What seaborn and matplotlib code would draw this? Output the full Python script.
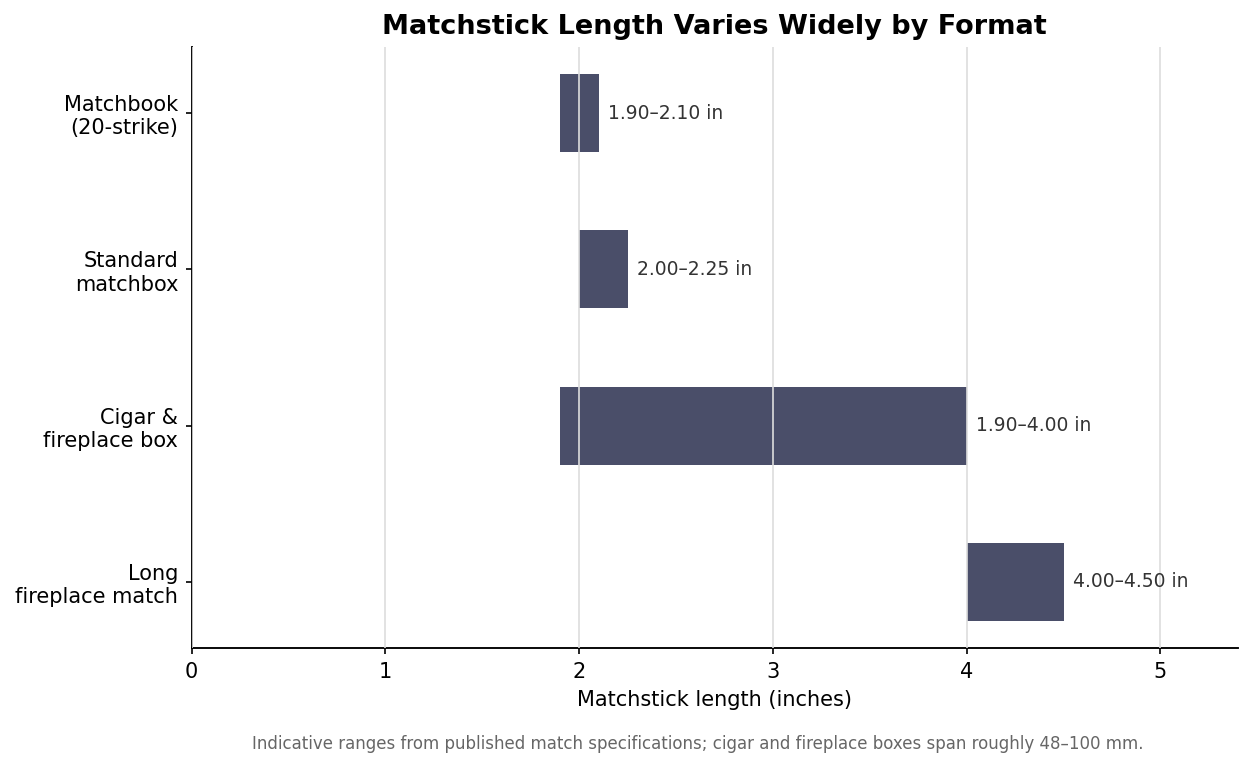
import numpy as np
import pandas as pd
import matplotlib
matplotlib.use("Agg")
import matplotlib.pyplot as plt
import seaborn as sns

# data
formats = ["Matchbook\n(20-strike)", "Standard\nmatchbox", "Cigar &\nfireplace box", "Long\nfireplace match"]
low_in = [1.90, 2.00, 1.90, 4.00]
high_in = [2.10, 2.25, 4.00, 4.50]

df = pd.DataFrame({"format": formats, "low": low_in, "high": high_in})
df["span"] = df["high"] - df["low"]

sns.set_theme(style="white")
plt.rcParams["font.family"] = ["DejaVu Sans"]

fig, ax = plt.subplots(figsize=(1253 / 150, 768 / 150), dpi=150)
fig.subplots_adjust(left=0.153, right=0.988, top=0.939, bottom=0.156)

ypos = np.arange(len(df))
ax.barh(ypos, df["span"], left=df["low"], height=0.5, color="#4a4e69",
        linewidth=0, zorder=1)
ax.set_yticks(ypos)
ax.set_yticklabels(df["format"], fontsize=10, color="black")
ax.invert_yaxis()

for y, lo, hi in zip(ypos, df["low"], df["high"]):
    ax.text(hi + 0.05, y, f"{lo:.2f}\u2013{hi:.2f} in", va="center", ha="left",
            fontsize=9, color="#333333", zorder=3)

ax.set_xlim(0, 5.4)
ax.set_xticks([0, 1, 2, 3, 4, 5])
ax.tick_params(axis="x", labelsize=10, labelcolor="black", bottom=True,
               length=3, width=0.8, color="black")
ax.tick_params(axis="y", left=True, length=3, width=0.8, color="black")
ax.xaxis.grid(True, color="#dddddd", linewidth=0.8)
ax.set_axisbelow(False)
for line in ax.get_xgridlines():
    line.set_zorder(2)
ax.yaxis.grid(False)

sns.despine(ax=ax)
for side in ["left", "bottom"]:
    ax.spines[side].set_color("black")
    ax.spines[side].set_linewidth(0.9)

ax.set_xlabel("Matchstick length (inches)", fontsize=10, color="black", labelpad=4)
ax.set_ylabel("")
ax.set_title("Matchstick Length Varies Widely by Format", fontsize=13,
             fontweight="bold", color="black", pad=6)

fig.text(0.557, 0.031,
         "Indicative ranges from published match specifications; cigar and fireplace boxes span roughly 48\u2013100 mm.",
         ha="center", va="center", fontsize=8, color="#666666")

fig.savefig("out.png", dpi=150)
